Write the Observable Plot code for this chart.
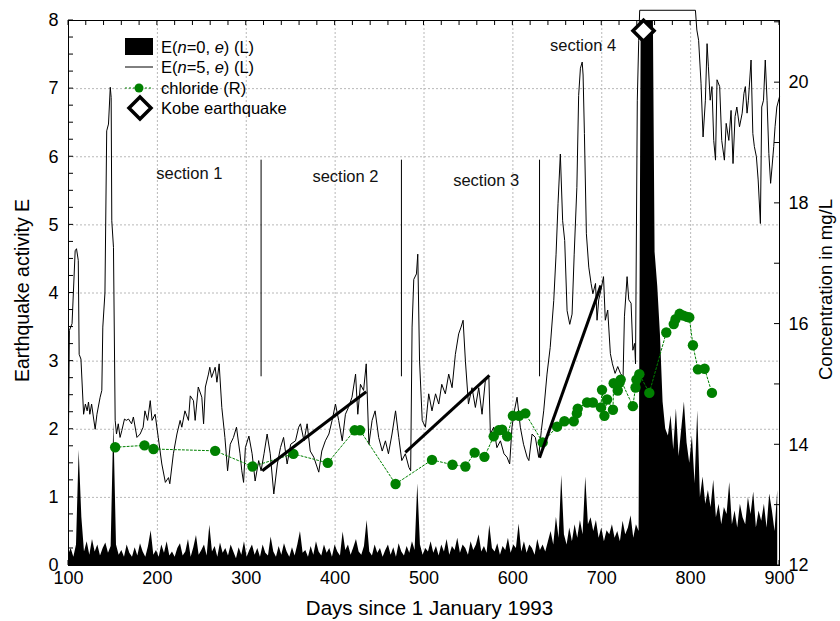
<!DOCTYPE html>
<html><head><meta charset="utf-8">
<script src="https://cdn.jsdelivr.net/npm/d3@7"></script>
<script src="https://cdn.jsdelivr.net/npm/@observablehq/plot@0.6"></script>
<style>body{margin:0;background:#fff;} #chart{position:relative;width:840px;height:621px;}</style>
</head><body><div id="chart"></div>
<script>
// ---- data ----
const e0Start = 100, e0Step = 3;
const e0Values = [
0.15,0.25,0.12,0.3,1.69,0.71,0.2,0.35,0.15,0.38,
0.2,0.3,0.14,0.25,0.33,0.18,0.28,2.1,0.3,0.15,
0.22,0.12,0.3,0.18,0.12,0.26,0.14,0.32,0.2,0.12,
0.28,0.51,0.15,0.22,0.12,0.3,0.18,0.35,0.14,0.2,
0.12,0.25,0.32,0.14,0.2,0.38,0.12,0.26,0.44,0.15,
0.22,0.3,0.14,0.59,0.2,0.28,0.12,0.33,0.18,0.25,
0.14,0.3,0.2,0.1,0.26,0.15,0.35,0.12,0.22,0.3,
0.15,0.25,0.12,0.3,0.18,0.14,0.42,0.2,0.12,0.28,
0.15,0.32,0.2,0.12,0.26,0.14,0.3,0.5,0.18,0.22,
0.12,0.28,0.15,0.35,0.2,0.14,0.3,0.18,0.25,0.12,
0.3,0.2,0.14,0.49,0.22,0.3,0.15,0.26,0.38,0.2,
0.15,0.28,0.66,0.2,0.14,0.3,0.18,0.25,0.12,0.22,
0.3,0.15,0.26,0.12,0.32,0.2,0.14,0.28,0.18,0.35,
0.22,1.2,0.3,0.15,0.25,0.2,0.35,0.18,0.28,0.14,
0.3,0.2,0.38,0.15,0.28,0.22,0.4,0.18,0.3,0.25,
0.15,0.35,0.22,0.3,0.45,0.2,0.28,0.18,0.59,0.25,
0.2,0.32,0.15,0.28,0.22,0.4,0.18,0.3,0.25,0.61,
0.2,0.35,0.18,0.3,0.25,0.15,0.38,0.22,0.3,0.2,
0.35,0.5,0.3,0.71,0.4,1.32,0.45,0.3,0.55,0.35,
0.6,0.4,0.66,0.45,1.3,0.6,0.7,0.5,0.66,0.4,
0.55,0.35,0.51,0.45,0.6,0.4,0.5,0.35,0.65,0.45,
0.55,0.73,0.4,0.6,0.5,10,10,10,10,10,
4.6,4.1,3.4,2.4,2.0,1.9,2.2,1.7,2.3,1.6,
2.0,2.4,1.8,1.5,1.9,1.2,2.27,1.0,1.3,0.9,
1.1,0.85,1.25,0.7,0.9,0.6,0.85,0.75,1.22,0.6,
0.8,0.55,0.9,0.7,0.6,1.0,0.75,1.08,0.55,0.8,
0.65,0.9,0.55,1.05,0.8,0.5,1.1
];
const e5Days = [100,101,104,107.5,109,111,112,114,117,119,121,122.5,124,126,128,130,132,135.6,137.5,138.6,141,143,145,147,148,148.7,150.6,152.5,154,156,158,160,163,165,167.5,171,173,177,180.6,184,186,189,192,194,197.5,201,205,209,212.5,214,218,222,225.6,227.5,231,235,237,240.6,242.5,246,250,252,254,257.5,259,261,265,267,269.5,272.5,276,279,282,285.6,289,293,295,297,299,303,306.6,310,314,316.7,320,323.5,327,331,335,338.5,342,346,350,355.4,359,361,365,368.5,372,376,381.6,385,389,393,396.6,400.4,404,408,411.6,415,419,423,425.5,428.5,432,435,438,441.6,445,449,453,456.6,460,464,468,471.6,475,479,483,485,486.6,488.5,491.5,493,495,498,501.6,505.3,509,513,516.6,520,524,527.8,531.6,535.3,539,541.7,544,546.6,550,554,557.8,561.6,565.3,569,573,574.7,578.4,582,586,590,593.4,596.4,599,601.7,604.7,608.4,612,616,618,621.6,625.3,629,632,634.7,638.4,642,646,648.6,650.8,653.4,656,658.3,661,664,666.6,669,672,674,676,678,679,680.5,682.7,685.4,688,690,693,694.7,696.6,699,702,704,706.7,709.7,712,715,718,721,724,725.5,728.5,730.4,733,735,737,738,740,741.6,742.7,805.4,807,809,811.7,814,816.6,818.5,820,822,824,826,828,829.7,832.7,835,838,840,843,845.5,847.7,850,852,855,858,860,861.6,863.5,865,868,870,871.7,874,876,878.5,880,882,884,886,888,890,891.6,893.5,895,897,900];
const e5Values = [2.0,3.45,3.55,4.62,4.65,4.48,3.1,3.03,2.22,2.37,2.27,2.4,2.22,2.37,2.18,2.0,2.22,2.47,2.57,3.5,4.0,6.38,6.48,7.02,6.87,5.06,4.67,2.13,1.93,2.08,1.88,1.98,2.15,2.13,2.15,2.08,2.18,1.88,1.93,2.03,2.27,2.13,2.42,2.13,2.22,1.88,1.49,1.22,1.29,1.2,1.64,1.93,2.13,2.03,2.27,2.13,2.49,2.42,2.13,2.62,2.47,2.08,2.62,2.81,2.91,2.76,2.91,2.69,2.96,2.32,1.88,1.39,1.78,1.88,2.03,1.64,1.39,1.22,1.73,1.9,1.64,1.24,1.54,1.39,1.64,1.93,1.64,1.05,1.49,1.73,1.88,1.49,1.78,1.83,2.03,2.08,1.83,2.08,1.68,1.59,1.37,1.68,1.83,1.93,2.13,2.37,2.13,1.83,2.22,2.32,2.47,2.81,2.22,2.66,2.57,2.96,1.78,2.13,2.27,1.88,1.68,1.83,1.64,1.93,2.27,1.88,1.54,1.64,1.44,1.39,3.5,4.2,4.28,4.57,3.0,2.13,2.03,2.52,2.27,2.52,2.37,2.66,2.52,2.81,2.61,3.1,3.4,3.5,3.6,3.0,2.37,2.61,2.32,2.61,2.22,2.71,2.76,1.93,2.03,1.73,1.83,1.64,1.59,1.49,2.03,2.27,2.47,2.03,1.78,1.59,1.54,1.93,1.88,1.59,1.98,2.27,2.81,3.2,3.89,4.57,5.31,6.04,5.06,4.77,3.74,3.54,3.69,4.57,5.55,6.9,7.3,7.39,7.2,6.34,4.87,4.38,4.14,3.99,4.14,3.6,3.9,4.04,4.24,3.6,3.75,3.11,2.96,2.82,2.92,2.82,2.77,3.65,4.24,3.9,3.85,3.16,3.26,2.96,6.83,7.71,8.15,8.15,7.86,7.71,7.08,6.29,6.83,7.66,7.32,6.83,7.03,6.24,5.95,7.13,7.03,6.24,5.95,6.49,6.24,6.68,5.9,6.59,6.73,6.44,6.64,6.93,7.03,6.64,6.83,7.42,6.34,6.15,6.0,5.66,5.02,6.73,6.83,7.42,6.83,6.05,5.61,5.85,6.15,6.44,6.73,6.88];
const clDays = [152.5,185.5,195.6,265,307,353,391.7,422,428,468,509,532,546.6,557,568,578.4,584,588,593.5,600,607,614,633.5,649.7,658,668.5,672,673,683.5,690,699,700.3,703,706,712.6,713.4,718,720,721.3,735,738,739,742.3,753.5,772.6,781,783,787.6,792,796,798.5,802.6,808.2,815.7,824];
const clValues = [13.96,13.99,13.93,13.9,13.64,13.85,13.7,14.24,14.24,13.35,13.75,13.67,13.64,13.87,13.8,14.14,14.24,14.25,14.14,14.48,14.48,14.52,14.04,14.3,14.39,14.39,14.52,14.6,14.7,14.7,14.62,14.91,14.48,14.75,14.58,15.02,14.9,15.03,15.08,14.64,14.95,15.08,15.17,14.86,15.86,16.0,16.08,16.17,16.14,16.12,16.11,15.65,15.25,15.26,14.86];
const trendStartDays = [318, 479, 630];
const trendStartVals = [1.39, 1.66, 1.58];
const trendEndDays = [435, 573.6, 699];
const trendEndVals = [2.55, 2.79, 4.11];
const dividerDays = [316.7, 474.6, 630];
const dividerLow = 2.77, dividerHigh = 5.95;
const sectionNames = ["section 1", "section 2", "section 3", "section 4"];
const sectionDays = [236, 411.6, 570, 679];
const sectionVals = [5.75, 5.71, 5.65, 7.63];
const kobeDay = 747, kobeVal = 7.85;
const xTickLabels = [100, 200, 300, 400, 500, 600, 700, 800, 900];
const leftTickLabels = [0, 1, 2, 3, 4, 5, 6, 7, 8];
const rightTickLabels = [12, 14, 16, 18, 20];
const rightDomain = [12, 21.03];
const titles = {x: "Days since 1 January 1993", left: "Earthquake activity E", right: "Concentration in mg/L"};

// ---- build ----
const toL = r => (r - rightDomain[0]) / (rightDomain[1] - rightDomain[0]) * 8;
const e0 = e0Values.map((v, i) => ({day: e0Start + i * e0Step, v}));
const e5 = e5Days.map((d, i) => ({day: d, v: e5Values[i]}));
const cl = clDays.map((d, i) => ({day: d, r: clValues[i]}));
const trends = trendStartDays.map((d, i) => ({x1: d, y1: trendStartVals[i], x2: trendEndDays[i], y2: trendEndVals[i]}));
const sections = sectionNames.map((s, i) => ({s, day: sectionDays[i], v: sectionVals[i]}));
const font = "'Liberation Sans', Arial, Helvetica, sans-serif";
const green = "#008000";
const gridColor = "#b8b8b8";

const plot = Plot.plot({
  width: 840, height: 621,
  marginLeft: 68, marginRight: 61, marginTop: 20, marginBottom: 56,
  x: {domain: [100, 900], axis: null},
  y: {domain: [0, 8], axis: null},
  style: {fontFamily: font, background: "white", overflow: "visible"},
  marks: [
    Plot.ruleX(xTickLabels.slice(1, -1), {stroke: gridColor, strokeDasharray: "2,2"}),
    Plot.ruleY(leftTickLabels.slice(1, -1), {stroke: gridColor, strokeDasharray: "2,2"}),
    Plot.areaY(e0, {x: "day", y: "v", fill: "black", clip: true}),
    Plot.line(e5, {x: "day", y: "v", stroke: "black", strokeWidth: 1}),
    Plot.ruleX(dividerDays, {y1: dividerLow, y2: dividerHigh, stroke: "black", strokeWidth: 1}),
    Plot.line(cl, {x: "day", y: d => toL(d.r), stroke: green, strokeDasharray: "2,2", strokeWidth: 1}),
    Plot.dot(cl, {x: "day", y: d => toL(d.r), r: 5.2, fill: green}),
    Plot.link(trends, {x1: "x1", y1: "y1", x2: "x2", y2: "y2", stroke: "black", strokeWidth: 3}),
    Plot.text(sections, {x: "day", y: "v", text: "s", fontSize: 16.5, fill: "#111"}),
    Plot.dot([{day: kobeDay, v: kobeVal}], {x: "day", y: "v", symbol: "diamond2", r: 9.5, stroke: "black", strokeWidth: 3.5, fill: "white"}),
    Plot.frame({stroke: "black"}),
    Plot.text(xTickLabels, {x: d => d, text: d => String(d), frameAnchor: "bottom", dy: 18, fontSize: 18}),
    Plot.text(leftTickLabels, {y: d => d, text: d => String(d), frameAnchor: "left", dx: -10, textAnchor: "end", fontSize: 18}),
    Plot.text(rightTickLabels, {y: d => toL(d), text: d => String(d), frameAnchor: "right", dx: 9, textAnchor: "start", fontSize: 18})
  ]
});

document.getElementById("chart").appendChild(plot);

const sx = plot.scale("x"), sy = plot.scale("y");
const svg = d3.select(plot);
const X0 = sx.apply(100), X1 = sx.apply(900), Y0 = sy.apply(0), Y1 = sy.apply(8);

// ---- inward ticks via the plot's scales ----
const g = svg.append("g").attr("stroke", "black").attr("stroke-width", 1);
d3.range(0, 8.001, 0.25).forEach(v => {
  const y = sy.apply(v);
  g.append("line").attr("x1", X0).attr("x2", X0 + 5).attr("y1", y).attr("y2", y);
});
d3.range(12, 21.01, 1).forEach(r => {
  const y = sy.apply(toL(r));
  g.append("line").attr("x1", X1).attr("x2", X1 - 5).attr("y1", y).attr("y2", y);
});
d3.range(100, 900.01, 20).forEach(d => {
  const x = sx.apply(d);
  g.append("line").attr("x1", x).attr("x2", x).attr("y1", Y1).attr("y2", Y1 + 5);
  g.append("line").attr("x1", x).attr("x2", x).attr("y1", Y0).attr("y2", Y0 - 5);
});

// ---- axis titles ----
const tg = svg.append("g").attr("font-family", font).attr("fill", "black").attr("text-anchor", "middle");
const midY = (Y0 + Y1) / 2;
tg.append("text").attr("transform", `translate(${X0 - 46},${midY - 2}) rotate(-90)`).attr("dy", "0.35em").attr("font-size", 19.5).text(titles.left);
tg.append("text").attr("transform", `translate(${X1 + 47},${midY - 3}) rotate(-90)`).attr("dy", "0.35em").attr("font-size", 18.5).text(titles.right);
tg.append("text").attr("x", (X0 + X1) / 2 + 6).attr("y", Y0 + 43).attr("dy", "0.35em").attr("font-size", 20.5).text(titles.x);

// ---- legend ----
const lg = svg.append("g").attr("font-family", font).attr("font-size", 16.5).attr("fill", "black").attr("text-anchor", "start");
lg.append("rect").attr("x", 125).attr("y", 38).attr("width", 28).attr("height", 17).attr("fill", "black");
lg.append("line").attr("x1", 125).attr("x2", 153).attr("y1", 67).attr("y2", 67).attr("stroke", "black");
lg.append("line").attr("x1", 125).attr("x2", 153).attr("y1", 88).attr("y2", 88).attr("stroke", green).attr("stroke-dasharray", "2,2");
lg.append("circle").attr("cx", 139).attr("cy", 88).attr("r", 4.5).attr("fill", green);
lg.append("path").attr("d", "M140,97 L151,108 L140,119 L129,108 Z").attr("fill", "white").attr("stroke", "black").attr("stroke-width", 3.5);
const row = (y, parts) => {
  const t = lg.append("text").attr("x", 161).attr("y", y).attr("dy", "0.35em");
  parts.forEach(([s, it]) => t.append("tspan").attr("font-style", it ? "italic" : null).text(s));
};
row(47, [["E(", 0], ["n", 1], ["=0, ", 0], ["e", 1], [") (L)", 0]]);
row(67, [["E(", 0], ["n", 1], ["=5, ", 0], ["e", 1], [") (L)", 0]]);
row(88, [["chloride (R)", 0]]);
row(108, [["Kobe earthquake", 0]]);
</script>
</body></html>
